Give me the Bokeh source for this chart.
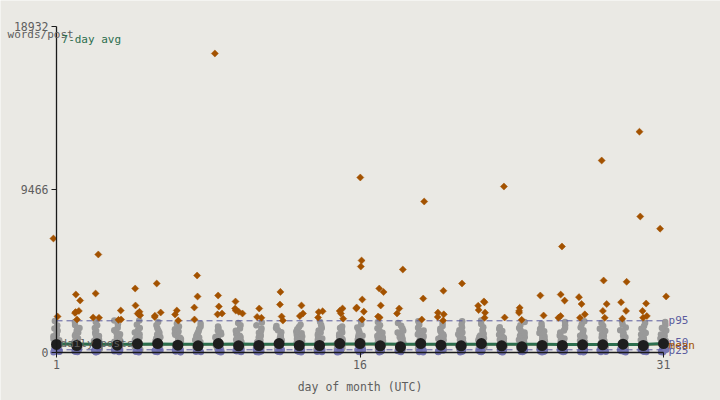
import math
from bokeh.plotting import figure
from bokeh.models import Range1d, LinearAxis, FixedTicker, Label, ColumnDataSource
from bokeh.transform import jitter
from bokeh.embed import file_html
from bokeh.resources import INLINE

days = list(range(1, 32))
tick_days = [1, 16, 31]
tick_values = [0, 9466, 18932]

gray_values = [
    [150, 190, 230, 280, 320, 370, 420, 470, 520, 580, 640, 700, 770, 850, 930, 1020, 1120, 1240, 1380, 1550, 1820],
    [160, 200, 240, 290, 330, 380, 430, 480, 540, 600, 660, 720, 790, 870, 950, 1040, 1140, 1260, 1400, 1580, 1760],
    [150, 190, 230, 280, 320, 370, 420, 470, 530, 590, 650, 710, 780, 860, 940, 1030, 1130, 1250, 1400, 1570, 1750],
    [170, 210, 250, 300, 340, 390, 440, 490, 550, 610, 670, 730, 800, 880, 960, 1050, 1150, 1270, 1420, 1620, 1850],
    [150, 190, 230, 280, 320, 370, 420, 470, 530, 590, 650, 710, 780, 860, 940, 1040, 1140, 1260, 1410, 1600, 1850],
    [160, 200, 240, 290, 330, 380, 430, 480, 540, 600, 660, 720, 790, 870, 950, 1030, 1130, 1250, 1390, 1560, 1750],
    [150, 190, 230, 280, 320, 370, 420, 470, 520, 580, 640, 700, 770, 840, 920, 1010, 1100, 1210, 1340, 1500, 1650],
    [160, 200, 240, 290, 330, 380, 430, 480, 530, 590, 650, 710, 780, 850, 930, 1020, 1110, 1220, 1350, 1500, 1650],
    [150, 190, 230, 270, 310, 360, 410, 460, 510, 560, 620, 680, 740, 810, 880, 960, 1050, 1150, 1260, 1380, 1500],
    [160, 200, 240, 290, 330, 380, 430, 480, 540, 600, 660, 720, 790, 870, 950, 1040, 1130, 1240, 1380, 1560, 1700],
    [150, 190, 230, 280, 320, 370, 420, 470, 530, 590, 650, 710, 780, 860, 940, 1030, 1130, 1240, 1380, 1560, 1720],
    [160, 200, 240, 280, 320, 370, 420, 470, 520, 570, 630, 690, 750, 820, 890, 970, 1060, 1160, 1280, 1400, 1520],
    [150, 190, 230, 280, 320, 370, 420, 470, 520, 580, 640, 700, 770, 840, 920, 1010, 1100, 1210, 1330, 1460, 1600],
    [160, 200, 240, 290, 330, 380, 430, 480, 540, 600, 660, 720, 790, 870, 950, 1040, 1140, 1260, 1400, 1570, 1750],
    [150, 190, 230, 270, 310, 360, 410, 460, 510, 560, 620, 680, 740, 810, 880, 960, 1050, 1150, 1270, 1400, 1500],
    [160, 200, 240, 290, 330, 380, 430, 490, 550, 610, 670, 730, 800, 880, 960, 1050, 1150, 1280, 1430, 1620, 1800],
    [150, 190, 230, 280, 320, 370, 420, 470, 530, 590, 650, 710, 780, 860, 940, 1030, 1130, 1250, 1390, 1560, 1750],
    [160, 200, 240, 290, 330, 380, 430, 480, 540, 600, 660, 720, 790, 870, 950, 1040, 1140, 1250, 1380, 1540, 1700],
    [150, 190, 230, 280, 320, 370, 420, 470, 530, 590, 650, 710, 780, 860, 940, 1030, 1130, 1260, 1420, 1600, 1800],
    [160, 200, 240, 290, 330, 380, 430, 480, 530, 590, 650, 710, 780, 860, 940, 1030, 1120, 1230, 1370, 1530, 1700],
    [150, 190, 230, 280, 320, 370, 420, 480, 540, 600, 660, 720, 790, 870, 950, 1040, 1140, 1270, 1430, 1610, 1800],
    [160, 200, 240, 290, 340, 390, 440, 490, 550, 610, 670, 740, 810, 890, 970, 1060, 1160, 1290, 1450, 1640, 1850],
    [150, 190, 230, 270, 310, 360, 410, 460, 510, 560, 610, 670, 730, 790, 860, 940, 1020, 1120, 1230, 1350, 1450],
    [160, 200, 240, 290, 330, 380, 430, 480, 540, 600, 660, 720, 790, 870, 950, 1040, 1140, 1260, 1400, 1570, 1750],
    [150, 190, 230, 280, 320, 370, 420, 470, 520, 580, 640, 700, 770, 850, 930, 1020, 1110, 1220, 1350, 1500, 1650],
    [160, 200, 240, 290, 330, 380, 430, 480, 540, 600, 660, 720, 790, 870, 950, 1040, 1140, 1260, 1400, 1570, 1750],
    [150, 190, 230, 280, 320, 370, 420, 480, 540, 600, 660, 720, 790, 870, 950, 1040, 1140, 1270, 1430, 1610, 1800],
    [160, 200, 240, 290, 330, 380, 430, 480, 530, 590, 650, 710, 780, 860, 940, 1030, 1120, 1230, 1370, 1530, 1700],
    [150, 190, 230, 280, 320, 370, 420, 480, 540, 600, 660, 720, 790, 870, 950, 1040, 1140, 1270, 1430, 1610, 1800],
    [160, 200, 240, 290, 330, 380, 430, 480, 530, 590, 650, 710, 780, 860, 940, 1030, 1120, 1230, 1370, 1530, 1700],
    [150, 190, 230, 280, 320, 370, 420, 470, 530, 590, 650, 710, 780, 860, 940, 1030, 1140, 1260, 1410, 1580, 1750],
]

purple_values = [
    [0, 20, 45, 70, 95, 120, 140], [5, 25, 50, 75, 100, 125, 140], [0, 15, 40, 65, 90, 115, 135],
    [10, 30, 55, 80, 105, 125, 140], [0, 20, 45, 70, 95, 120, 140], [5, 25, 50, 75, 100, 120, 135],
    [0, 15, 40, 65, 90, 115, 140], [10, 30, 55, 80, 100, 125, 140], [0, 20, 45, 70, 95, 120, 140],
    [5, 25, 50, 75, 100, 125, 135], [0, 15, 40, 65, 90, 115, 140], [10, 30, 55, 80, 105, 125, 140],
    [0, 20, 45, 70, 95, 120, 140], [5, 25, 50, 75, 100, 120, 135], [0, 15, 40, 65, 90, 115, 140],
    [10, 30, 55, 80, 100, 125, 140], [0, 20, 45, 70, 95, 120, 140], [5, 25, 50, 75, 100, 125, 135],
    [0, 15, 40, 65, 90, 115, 140], [10, 30, 55, 80, 105, 125, 140], [0, 20, 45, 70, 95, 120, 140],
    [5, 25, 50, 75, 100, 120, 135], [0, 15, 40, 65, 90, 115, 140], [10, 30, 55, 80, 100, 125, 140],
    [0, 20, 45, 70, 95, 120, 140], [5, 25, 50, 75, 100, 125, 135], [0, 15, 40, 65, 90, 115, 140],
    [10, 30, 55, 80, 105, 125, 140], [0, 20, 45, 70, 95, 120, 140], [5, 25, 50, 75, 100, 120, 135],
    [0, 15, 40, 65, 90, 115, 140],
]

outlier_values = [
    [6609, 2075],
    [3354, 3005, 2400, 2330, 2280, 1900],
    [5680, 3412, 2017, 2000],
    [2424, 1900, 1880],
    [3703, 2715, 2350, 2250, 2150, 2200],
    [3994, 2307, 2050, 2120],
    [2424, 2190, 1840],
    [4458, 3238, 2598, 1900],
    [17363, 3296, 2657, 2250, 2200],
    [2947, 2540, 2420, 2350, 2250],
    [2540, 2050, 2000],
    [3505, 2770, 2075, 1840],
    [2715, 2250, 2100],
    [2380, 2330, 2017],
    [2540, 2400, 2250, 1950],
    [10155, 5330, 4980, 3063, 2600, 2540, 2360, 1900],
    [3700, 3500, 2715, 2075, 2017],
    [4807, 2540, 2250],
    [8760, 3120, 1900],
    [3570, 2300, 2200, 2050, 1840],
    [3994],
    [2950, 2900, 2700, 2450, 2300, 2000],
    [9630, 2017],
    [2580, 2400, 2290, 1880],
    [3296, 2133],
    [6144, 3350, 3000, 2100, 2000],
    [3200, 2800, 2200, 2000],
    [11143, 4168, 2800, 2400, 2000],
    [4092, 2900, 2400, 1950],
    [12818, 7888, 2830, 2400, 2100, 2000],
    [7180, 3240],
]

median_values = [450, 390, 490, 410, 490, 505, 410, 370, 505, 370, 390, 505, 390, 390, 505, 505,
                 370, 310, 505, 410, 370, 505, 370, 310, 390, 390, 430, 430, 465, 390, 505]

avg7_values = [470, 470, 468, 466, 468, 470, 468, 466, 468, 470, 468, 466, 465, 466, 470, 472,
               470, 466, 464, 462, 460, 462, 465, 462, 458, 455, 452, 450, 452, 455, 500]

p95_value = 1825
p50_value = 460
mean_value = 430
p25_value = 140
y_top = 18932

def flatten(lists):
    xs, ys = [], []
    for d, vals in zip(days, lists):
        for v in vals:
            xs.append(d)
            ys.append(v)
    return xs, ys

gx, gy = flatten(gray_values)
px, py = flatten(purple_values)
ox, oy = flatten(outlier_values)

BG = "#eae9e4"
FONT = "DejaVu Sans Mono"
TXT = "#5e5e5e"
PURPLE = "#5b5b9e"
ORANGE = "#a35200"
GREEN = "#2c6e4e"
FS = "11px"

p = figure(width=720, height=400, x_range=Range1d(-1.768, 33.817), y_range=Range1d(-2807, 20443),
           output_backend="svg", toolbar_location=None, x_axis_type=None, y_axis_type=None,
           min_border=0, background_fill_color=BG, border_fill_color=BG, outline_line_color=None)

p.scatter(x=jitter("d", width=0.3, distribution="uniform"), y="v",
          source=ColumnDataSource(dict(d=gx, v=gy)), size=6.5, marker="circle",
          fill_color="#999999", line_color=None)
p.scatter(x=jitter("d", width=0.3, distribution="uniform"), y="v",
          source=ColumnDataSource(dict(d=px, v=py)), size=6.5, marker="circle",
          fill_color="#7676b2", line_color=None)

for val in [p95_value, p25_value]:
    p.line(x=[1, 31], y=[val, val], line_color=PURPLE, line_dash="6 4", line_width=1)
p.line(x=[1, 31], y=[mean_value, mean_value], line_color=ORANGE, line_width=1)
p.line(x=[1, 31], y=[p50_value, p50_value], line_color=PURPLE, line_dash="6 4", line_width=1)

p.scatter(x=jitter("d", width=0.4, distribution="uniform"), y="v",
          source=ColumnDataSource(dict(d=ox, v=oy)), size=5, marker="square", angle=math.pi / 4,
          fill_color=ORANGE, line_color=ORANGE, line_width=0.5)

p.line(x=days, y=avg7_values, line_color=GREEN, line_width=3)
p.scatter(x=days, y=median_values, size=11, marker="circle", fill_color="#1e1e1e", line_color=None)

yaxis = LinearAxis(fixed_location=1, ticker=FixedTicker(ticks=tick_values), bounds=(0, y_top))
xaxis = LinearAxis(fixed_location=0, ticker=FixedTicker(ticks=tick_days), bounds=(1, 31),
                   axis_label="day of month (UTC)")
for ax in (xaxis, yaxis):
    ax.axis_line_color = "#1a1a1a"
    ax.axis_line_width = 1.3
    ax.major_tick_line_color = "#1a1a1a"
    ax.major_tick_out = 5
    ax.major_tick_in = 0
    ax.minor_tick_line_color = None
    ax.major_label_text_font = FONT
    ax.major_label_text_font_size = "11.5px"
    ax.major_label_text_color = TXT
    ax.major_label_standoff = 3
    ax.axis_label_text_font = FONT
    ax.axis_label_text_font_size = "11.5px"
    ax.axis_label_text_font_style = "normal"
    ax.axis_label_text_color = TXT
xaxis.axis_label_standoff = 7
p.add_layout(yaxis, "left")
p.add_layout(xaxis, "below")

def lab(x, y, text, color, xoff=0, align="left"):
    p.add_layout(Label(x=x, y=y, text=text, x_offset=xoff, text_color=color, text_font=FONT,
                       text_font_size=FS, text_baseline="middle", text_align=align))

lab(1, 18439, "words/post", TXT, xoff=-49)
lab(1, 18189, "7-day avg", GREEN, xoff=5)
lab(1, 506, "daily posts", TXT, xoff=4)
lab(31, p95_value, "p95", PURPLE, xoff=5)
lab(31, p50_value + 120, "p50", PURPLE, xoff=5)
lab(31, mean_value - 20, "mean", ORANGE, xoff=5)
lab(31, p25_value - 40, "p25", PURPLE, xoff=5)

open("out.html", "w").write(file_html(p, INLINE))
